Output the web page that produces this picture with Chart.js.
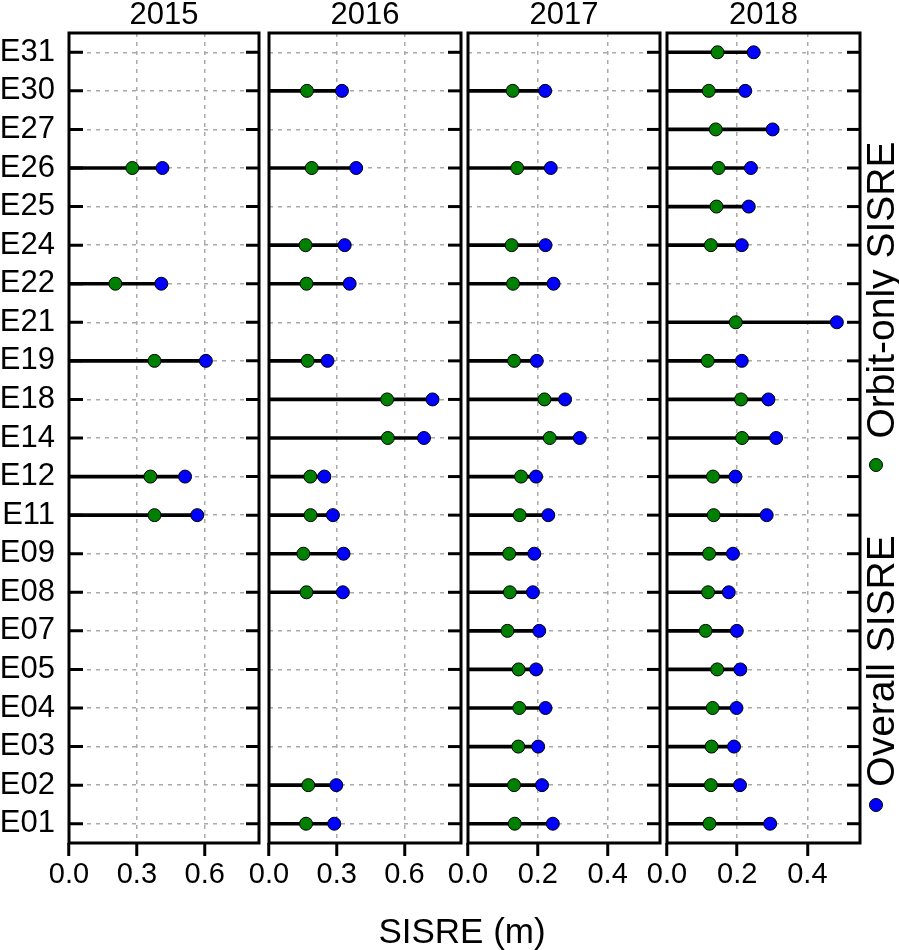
<!DOCTYPE html>
<html>
<head>
<meta charset="utf-8">
<title>SISRE per satellite</title>
<script src="https://cdn.jsdelivr.net/npm/chart.js@4.4.0/dist/chart.umd.min.js"></script>
<style>
body { margin: 0; background: #fff; font-family: "Liberation Sans", Arial, sans-serif; }
#wrap { position: relative; width: 899px; height: 950px; overflow: hidden; }
canvas { position: absolute; left: 0; top: 0; }
.xtitle { position: absolute; left: 462px; top: 930px; transform: translate(-50%, -50%); font-size: 35px; line-height: 1; white-space: nowrap; color: #000; }
.leg { position: absolute; left: 880px; transform: translate(-50%, -50%) rotate(-90deg); font-size: 39px; line-height: 1; white-space: nowrap; color: #000; }
.dot { position: absolute; width: 12px; height: 12px; border: 1px solid #000; border-radius: 50%; }
</style>
</head>
<body>
<div id="wrap">
  <canvas id="c0" width="899" height="950"></canvas>
  <canvas id="c1" width="899" height="950"></canvas>
  <canvas id="c2" width="899" height="950"></canvas>
  <canvas id="c3" width="899" height="950"></canvas>
  <div class="xtitle">SISRE (m)</div>
  <div class="leg" style="top:290px">Orbit-only SISRE</div>
  <div class="dot" style="left:869px;top:458px;background:#008000"></div>
  <div class="leg" style="top:661px">Overall SISRE</div>
  <div class="dot" style="left:869px;top:798px;background:#0000ff"></div>
</div>
<script>
// satellites, top to bottom
const sats = ['E31', 'E30', 'E27', 'E26', 'E25', 'E24', 'E22', 'E21', 'E19', 'E18', 'E14',
              'E12', 'E11', 'E09', 'E08', 'E07', 'E05', 'E04', 'E03', 'E02', 'E01'];
const years = ['2015', '2016', '2017', '2018'];

// orbit-only SISRE (green) and overall SISRE (blue), metres
const orbit2015   = [null, null, null, 0.28, null, null, 0.205, null, 0.378, null, null, 0.36, 0.378, null, null, null, null, null, null, null, null];
const overall2015 = [null, null, null, 0.413, null, null, 0.408, null, 0.605, null, null, 0.513, 0.567, null, null, null, null, null, null, null, null];
const orbit2016   = [null, 0.168, null, 0.189, null, 0.162, 0.166, null, 0.171, 0.523, 0.526, 0.183, 0.184, 0.152, 0.166, null, null, null, null, 0.174, 0.164];
const overall2016 = [null, 0.323, null, 0.386, null, 0.335, 0.357, null, 0.259, 0.724, 0.686, 0.245, 0.283, 0.33, 0.327, null, null, null, null, 0.298, 0.289];
const orbit2017   = [null, 0.128, null, 0.141, null, 0.125, 0.129, null, 0.132, 0.219, 0.234, 0.152, 0.148, 0.118, 0.12, 0.113, 0.145, 0.147, 0.144, 0.132, 0.134];
const overall2017 = [null, 0.221, null, 0.237, null, 0.222, 0.245, null, 0.197, 0.278, 0.32, 0.195, 0.23, 0.19, 0.186, 0.204, 0.195, 0.222, 0.201, 0.212, 0.243];
const orbit2018   = [0.144, 0.119, 0.139, 0.147, 0.141, 0.125, null, 0.196, 0.116, 0.211, 0.214, 0.131, 0.133, 0.12, 0.117, 0.11, 0.143, 0.13, 0.127, 0.125, 0.121];
const overall2018 = [0.247, 0.223, 0.301, 0.239, 0.233, 0.213, null, 0.484, 0.213, 0.289, 0.311, 0.195, 0.284, 0.188, 0.176, 0.199, 0.209, 0.198, 0.191, 0.208, 0.294];

// x axis ticks / ranges
const ticksWide = [0, 0.3, 0.6];
const ticksNarrow = [0, 0.2, 0.4];
const xMax = [0.84, 0.85, 0.55, 0.55];

// panel boxes on the page
const panelLeft = [69, 269, 468, 667];
const panelRight = [259, 461, 660, 860];
const plotBottom = 843;
const FONT = '"Liberation Sans", Arial, sans-serif';

// black frame + the short inner ticks at each satellite row
const framePlugin = {
    id: 'frame',
    afterDraw(chart, args, opts) {
        const a = chart.chartArea, ctx = chart.ctx, ys = chart.scales.y;
        ctx.save();
        ctx.setLineDash([]);
        ctx.strokeStyle = '#000';
        ctx.lineWidth = 3;
        sats.forEach((s, i) => {
            const py = ys.getPixelForValue(i);
            ctx.beginPath();
            ctx.moveTo(a.right - 13, py);
            ctx.lineTo(a.right, py);
            if (opts.leftTicks) {
                ctx.moveTo(a.left, py);
                ctx.lineTo(a.left + 14, py);
            }
            ctx.stroke();
        });
        ctx.strokeRect(a.left, a.top, a.right - a.left, a.bottom - a.top);
        ctx.restore();
    }
};

function makePanel(i, orbit, overall, xticks) {
    const yW = i === 0 ? panelLeft[0] : 0;
    const dot = (data, color, order, label) => ({
        type: 'line', label: label, data: data, indexAxis: 'y', showLine: false,
        pointRadius: 6.5, pointHoverRadius: 6.5, pointBackgroundColor: color,
        pointBorderColor: '#000', pointBorderWidth: 1, order: order
    });
    return new Chart(document.getElementById('c' + i), {
        type: 'bar',
        data: {
            labels: sats,
            datasets: [
                dot(overall, '#0000ff', 1, 'Overall SISRE'),
                dot(orbit, '#008000', 2, 'Orbit-only SISRE'),
                { label: 'stem', data: overall, indexAxis: 'y', backgroundColor: '#000', barThickness: 3, order: 3 }
            ]
        },
        options: {
            indexAxis: 'y',
            responsive: false,
            animation: false,
            devicePixelRatio: 1,
            layout: { padding: { left: panelLeft[i] - yW, right: 899 - panelRight[i], top: 0, bottom: 0 } },
            plugins: {
                legend: { display: false },
                tooltip: { enabled: false },
                title: {
                    display: true, text: years[i], fullSize: false, color: '#000',
                    font: { family: FONT, size: 31, weight: 'normal', lineHeight: 1 },
                    padding: { top: 0, bottom: 2 }
                },
                frame: { leftTicks: i === 0 }
            },
            scales: {
                x: {
                    type: 'linear', min: 0, max: xMax[i],
                    afterBuildTicks: s => { s.ticks = xticks.map(v => ({ value: v })); },
                    afterFit: s => { s.height = 950 - plotBottom; },
                    grid: { color: '#aaa', lineWidth: 1.5, drawTicks: true, tickLength: 13, tickWidth: 3, tickColor: '#000', tickBorderDash: [] },
                    border: { display: false, dash: [4, 5] },
                    ticks: {
                        color: '#000', padding: 2, maxRotation: 0, minRotation: 0,
                        font: { family: FONT, size: 29 },
                        callback: v => Number(v).toFixed(1)
                    }
                },
                y: {
                    afterFit: s => { s.width = yW; },
                    grid: { offset: false, drawTicks: false, color: '#aaa', lineWidth: 1.5 },
                    border: { display: false, dash: [4, 5] },
                    ticks: { display: i === 0, autoSkip: false, color: '#000', padding: 14, font: { family: FONT, size: 31 } }
                }
            }
        },
        plugins: [framePlugin]
    });
}

makePanel(0, orbit2015, overall2015, ticksWide);
makePanel(1, orbit2016, overall2016, ticksWide);
makePanel(2, orbit2017, overall2017, ticksNarrow);
makePanel(3, orbit2018, overall2018, ticksNarrow);
</script>
</body>
</html>
